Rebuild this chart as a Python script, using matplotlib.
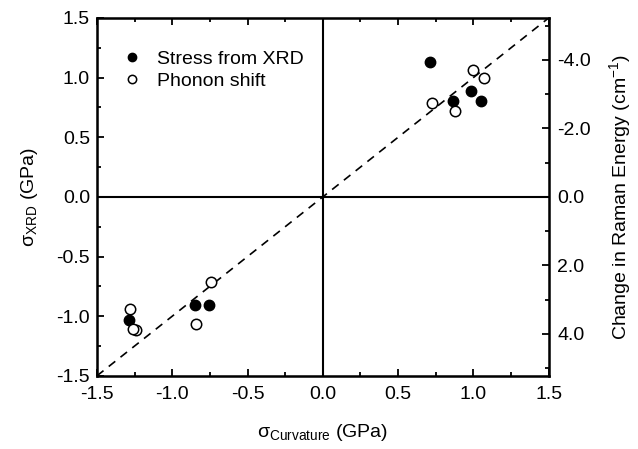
import matplotlib
matplotlib.use('Agg')
import matplotlib.pyplot as plt
from matplotlib.ticker import MultipleLocator, FormatStrFormatter

plt.rcParams['font.family'] = ['Liberation Sans', 'DejaVu Sans']
plt.rcParams['mathtext.fontset'] = 'custom'
plt.rcParams['mathtext.rm'] = 'Liberation Sans'

# Stress from XRD (filled circles)
xrd_x = [0.71, 0.865, 0.984, 1.053, -1.29, -0.851, -0.754]
xrd_y = [1.13, 0.80, 0.89, 0.80, -1.031, -0.905, -0.905]

# Phonon shift (open circles)
phonon_x = [0.998, 1.068, 0.725, 0.878, -1.281, -1.241, -1.26, -0.843, -0.743]
phonon_y = [1.065, 0.995, 0.79, 0.72, -0.939, -1.12, -1.11, -1.067, -0.71]

# 1:1 reference line
ref_line = [-1.5, 1.5]

# conversion GPa -> cm^-1 used for the right axis
raman_per_gpa = 3.48

fs = 14

fig = plt.figure(figsize=(6.38, 4.49), dpi=100)
ax = fig.add_axes([0.152, 0.163, 0.708, 0.797])

ax.axhline(0, color='black', lw=1.5, zorder=1)
ax.axvline(0, color='black', lw=1.5, zorder=1)
ax.plot(ref_line, ref_line, color='black', ls=(0, (5, 4)), lw=1.2, zorder=1)

ax.plot(xrd_x, xrd_y, 'o', color='black', ms=7.5, label='Stress from XRD', zorder=3)
ax.plot(phonon_x, phonon_y, 'o', mfc='white', mec='black', mew=1.1, ms=7.5,
        label='Phonon shift', zorder=3)

ax.set_xlim(-1.5, 1.5)
ax.set_ylim(-1.5, 1.5)
ax.xaxis.set_major_locator(MultipleLocator(0.5))
ax.xaxis.set_minor_locator(MultipleLocator(0.25))
ax.yaxis.set_major_locator(MultipleLocator(0.5))
ax.yaxis.set_minor_locator(MultipleLocator(0.25))
ax.xaxis.set_major_formatter(FormatStrFormatter('%.1f'))
ax.yaxis.set_major_formatter(FormatStrFormatter('%.1f'))
ax.tick_params(which='both', direction='in', top=True, right=False, width=1.3, labelsize=fs)
ax.tick_params(which='major', length=5)
ax.tick_params(which='minor', length=3)
ax.tick_params(axis='x', which='major', pad=7)
ax.tick_params(axis='y', which='major', pad=5)
for s in ax.spines.values():
    s.set_linewidth(1.8)

ax.set_xlabel('σ$_{\\mathregular{Curvature}}$ (GPa)', fontsize=fs, labelpad=14)
ax.set_ylabel('σ$_{\\mathregular{XRD}}$ (GPa)', fontsize=fs, labelpad=12)

ax2 = ax.twinx()
lim = 1.5 * raman_per_gpa
ax2.set_ylim(lim, -lim)
ax2.yaxis.set_major_locator(MultipleLocator(2))
ax2.yaxis.set_minor_locator(MultipleLocator(1))
ax2.yaxis.set_major_formatter(FormatStrFormatter('%.1f'))
ax2.tick_params(which='both', direction='in', width=1.3, labelsize=fs)
ax2.tick_params(which='major', length=5, pad=6)
ax2.tick_params(which='minor', length=3)
ax2.set_ylabel('Change in Raman Energy (cm$^{\\mathregular{-1}}$)', fontsize=fs, labelpad=12)

leg = ax.legend(loc='upper left', bbox_to_anchor=(0.0, 0.965), frameon=False, fontsize=fs,
                markerscale=0.8, handletextpad=0.5, handlelength=1.6, borderaxespad=0.6,
                labelspacing=0.25)

fig.savefig('out.png', dpi=100)
